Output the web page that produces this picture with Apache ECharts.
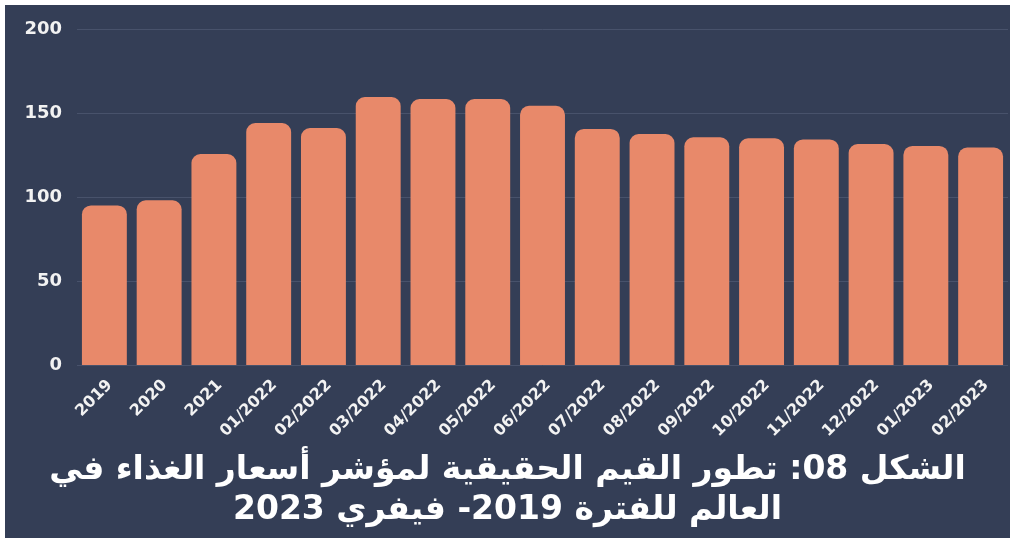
<!DOCTYPE html>
<html>
<head>
<meta charset="utf-8">
<script src="https://cdn.jsdelivr.net/npm/echarts@6/dist/echarts.min.js"></script>
<style>
  html, body { margin: 0; padding: 0; background: #ffffff; }
  #chart { position: absolute; left: 5px; top: 5px; width: 1005px; height: 533px; }
</style>
</head>
<body>
<div id="chart"></div>
<script>
// Periods (yearly averages, then monthly values)
const categories = ['2019', '2020', '2021', '01/2022', '02/2022', '03/2022', '04/2022', '05/2022',
  '06/2022', '07/2022', '08/2022', '09/2022', '10/2022', '11/2022', '12/2022', '01/2023', '02/2023'];
// Real food price index values
const indexValues = [95, 98, 125.6, 144, 141, 159.5, 158.3, 158.3, 154.3, 140.5, 137.5, 135.5, 134.9, 134.3, 131.5, 130.4, 129.4];
// Value axis ticks
const yTicks = [0, 50, 100, 150, 200];
// Title lines
const titleLine1 = 'الشكل 08: تطور القيم الحقيقية لمؤشر أسعار الغذاء في';
const titleLine2 = 'العالم للفترة 2019- فيفري 2023';

// A leading left-to-right mark keeps each line in a left-to-right paragraph
const LRM = '\u200E';
const titleText = LRM + titleLine1 + '\n' + LRM + titleLine2;
const FONT = '"DejaVu Sans", Roboto, sans-serif';

const chart = echarts.init(document.getElementById('chart'));
chart.setOption({
  backgroundColor: '#343e56',
  animation: false,
  title: {
    text: titleText,
    left: 'center',
    top: 440,
    textStyle: {
      color: '#ffffff',
      fontSize: 33,
      fontWeight: 'bold',
      fontFamily: FONT,
      lineHeight: 40,
      align: 'center'
    }
  },
  grid: { left: 72, right: 2, top: 24, bottom: 173, containLabel: false },
  xAxis: {
    type: 'category',
    data: categories,
    axisLine: { show: false },
    axisTick: { show: false },
    axisLabel: {
      rotate: 45,
      margin: 12,
      verticalAlign: 'top',
      color: '#f2f2f2',
      fontSize: 16,
      fontWeight: 'bold',
      fontFamily: FONT,
      interval: 0
    }
  },
  yAxis: {
    type: 'value',
    min: yTicks[0],
    max: yTicks[yTicks.length - 1],
    interval: yTicks[1] - yTicks[0],
    axisLine: { show: false },
    axisTick: { show: false },
    splitLine: { lineStyle: { color: '#48526b', width: 1 } },
    axisLabel: {
      margin: 15,
      color: '#f2f2f2',
      fontSize: 18,
      fontWeight: 'bold',
      fontFamily: FONT
    }
  },
  series: [{
    type: 'bar',
    data: indexValues,
    barCategoryGap: '18%',
    itemStyle: { color: '#e8896a', borderRadius: [9, 9, 0, 0] }
  }]
});
</script>
</body>
</html>
